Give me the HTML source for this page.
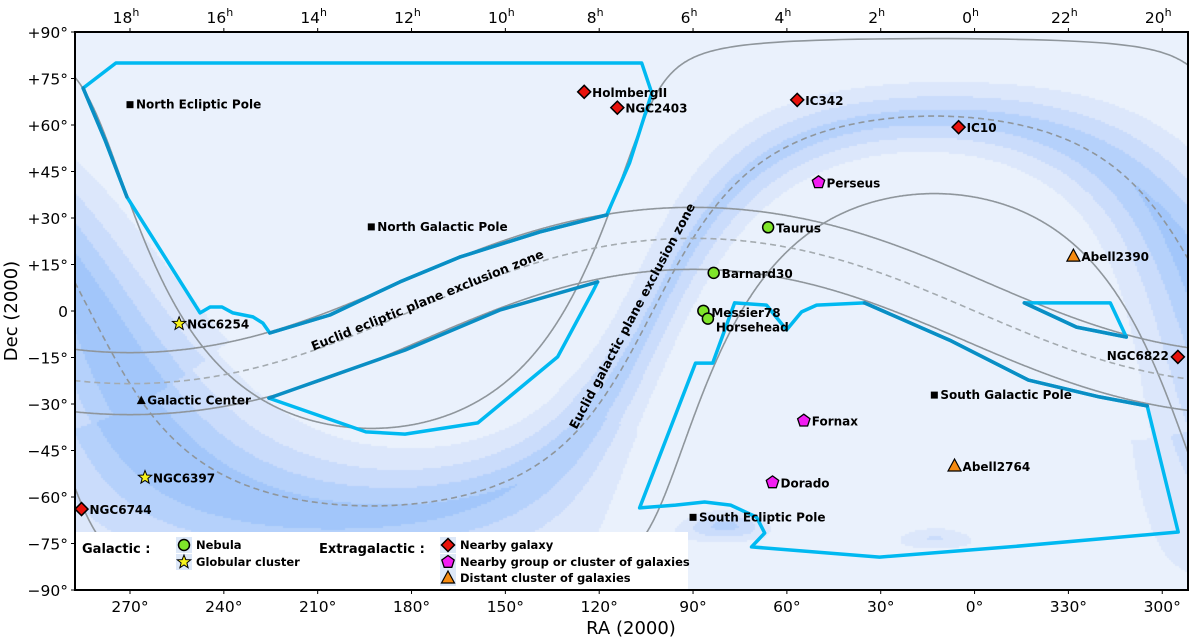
<!DOCTYPE html>
<html><head><meta charset="utf-8"><style>
html,body{margin:0;padding:0;background:#fff;}
#wrap{position:relative;width:1200px;height:640px;overflow:hidden;font-family:"DejaVu Sans","Liberation Sans",sans-serif;}
canvas{position:absolute;left:75px;top:32px;}
svg{position:absolute;left:0;top:0;}
</style></head><body>
<div id="wrap">
<canvas id="bg" width="1113" height="558"></canvas>
<svg id="sv" width="1200" height="640" xmlns="http://www.w3.org/2000/svg"></svg>
</div>
<script>
// ---- data ----
const raTicks=[270,240,210,180,150,120,90,60,30,0,330,300];
const raTickLabels=["270°","240°","210°","180°","150°","120°","90°","60°","30°","0°","330°","300°"];
const hourTicks=[270,240,210,180,150,120,90,60,30,0,330,300];
const hourLabels=["18","16","14","12","10","8","6","4","2","0","22","20"];
const decTicks=[90,75,60,45,30,15,0,-15,-30,-45,-60,-75,-90];
const decTickLabels=["+90°","+75°","+60°","+45°","+30°","+15°","0","−15°","−30°","−45°","−60°","−75°","−90°"];
const objNames=["North Ecliptic Pole","North Galactic Pole","Galactic Center","South Galactic Pole","South Ecliptic Pole","NGC6254","NGC6397","NGC6744","HolmbergII","NGC2403","IC342","IC10","NGC6822","Perseus","Fornax","Dorado","Taurus","Barnard30","Messier78","Horsehead","Abell2390","Abell2764"];
const objRA=[270,192.86,266.4,12.86,90,254.3,265.2,285.5,124.8,114.2,56.7,5.1,295.0,49.9,54.6,64.6,66,83.4,86.7,85.25,328.4,6.4];
const objDec=[66.56,27.13,-28.9,-27.13,-66.56,-4.1,-53.7,-63.9,70.7,65.6,68.1,59.3,-14.8,41.5,-35.4,-55.3,27,12.3,0.05,-2.46,17.7,-50];
const objType=["sq","sq","tri","sq","sq","star","star","dia","dia","dia","dia","dia","dia","pent","pent","pent","circ","circ","circ","circ","otri","otri"];
const northRA=[285.0,274.5,106.4,103.2,110.3,117.6,139.0,164.6,183.7,206.1,225.3,227.5,230.7,237.1,240.6,244.4,247.6,271.0,278.0,285.0];
const northDec=[71.9,80.0,80.0,70.3,47.7,31.0,25.5,17.4,9.4,-1.3,-7.1,-3.9,-1.9,-0.6,1.3,1.3,-0.6,36.8,55.2,71.9];
const northDarkA_RA=[285.0,278.0,271.0]; const northDarkA_Dec=[71.9,55.2,36.8];
const northDarkB_RA=[117.6,139.0,164.6,183.7,206.1,225.3]; const northDarkB_Dec=[31.0,25.5,17.4,9.4,-1.3,-7.1];
const uRA=[120.5,121.8,133.3,158.8,182.1,194.6,225.6]; const uDec=[9.4,6.8,-14.8,-36.1,-39.7,-39.0,-28.1];
const uDarkRA=[225.6,182.1,151.8,120.5]; const uDarkDec=[-28.1,-12.6,0.3,9.4];
const southRA=[76.7,66.5,60.1,55.3,50.5,35.2,8.0,342.8,320.1,304.8,294.9,348.9,30.4,71.3,67.1,69.7,78.0,86.3,95.6,107.1,89.2,83.7,76.7];
const southDec=[2.6,1.9,-6.1,-0.3,1.9,2.6,-9.4,-22.3,-27.7,-30.6,-71.3,-76.1,-79.4,-76.1,-71.6,-66.5,-62.6,-61.6,-62.6,-63.5,-16.8,-16.8,2.6];
const southDarkRA=[35.2,8.0,342.8,320.1,304.8]; const southDarkDec=[2.6,-9.4,-22.3,-27.7,-30.6];
const triRA=[344.1,316.6,311.5,327.4,344.1]; const triDec=[2.6,2.6,-8.4,-5.2,2.6];
const triDarkRA=[311.5,327.4,344.1]; const triDarkDec=[-8.4,-5.2,2.6];

// ---- axes ----
const X0=75,X1=1188,Y0=32,Y1=590;
function unwrap(ra){ra=((ra%360)+360)%360;return ra>290?ra-360:ra;}
function xOf(ra){return 130+(270-unwrap(ra))*3.128;}
function yOf(dec){return 311-dec*3.1;}
const D=Math.PI/180;
const aG=192.85948*D,dG=27.12825*D,lN=122.93192*D,eps=23.4393*D;
function eq2gal(ra,dec){const a=ra*D,d=dec*D;
 const sb=Math.sin(d)*Math.sin(dG)+Math.cos(d)*Math.cos(dG)*Math.cos(a-aG);
 const l=lN-Math.atan2(Math.cos(d)*Math.sin(a-aG),Math.sin(d)*Math.cos(dG)-Math.cos(d)*Math.sin(dG)*Math.cos(a-aG));
 return [((l/D)%360+360)%360,Math.asin(sb)/D];}
function gal2eq(l,b){l*=D;b*=D;
 const sd=Math.sin(b)*Math.sin(dG)+Math.cos(b)*Math.cos(dG)*Math.cos(lN-l);
 const a=aG+Math.atan2(Math.cos(b)*Math.sin(lN-l),Math.sin(b)*Math.cos(dG)-Math.cos(b)*Math.sin(dG)*Math.cos(lN-l));
 return [a/D,Math.asin(sd)/D];}
function ecl2eq(lam,bet){lam*=D;bet*=D;
 const sd=Math.sin(bet)*Math.cos(eps)+Math.cos(bet)*Math.sin(eps)*Math.sin(lam);
 const a=Math.atan2(Math.sin(lam)*Math.cos(eps)-Math.tan(bet)*Math.sin(eps),Math.cos(lam));
 return [a/D,Math.asin(sd)/D];}

// ---- background density ----
(function(){
 const c=document.getElementById('bg'),ctx=c.getContext('2d');
 const cols=["#eaf1fc","#dce7fb","#cadcfb","#b5d1fb","#a2c6fa"];
 const th=[0.14,0.3,0.5,0.72];
 const st=2;
 for(let py=0;py<558;py+=st){for(let px=0;px<1113;px+=st){
  const x=px+X0,y=py+Y0;
  let ra=270-(x-130)/3.128, dec=(311-y)/3.1;
  if(dec>90)dec=90;if(dec<-90)dec=-90;
  const g=eq2gal(ra,dec);let l=g[0],b=g[1];
  const lc=Math.cos(l*D/2); const gg=Math.pow(lc,4);
  const w=8+12*gg;
  const off=(l>250&&l<360)?-5*gg:0;
  let I=(0.58+0.42*gg)*Math.exp(-Math.pow(Math.abs(b-off)/w,1.4));
  const dl=(ra-80)*Math.cos(dec*D),dd=dec+69; I+=0.55*Math.exp(-(dl*dl+dd*dd)/18);
  const sl=(ra-13)*Math.cos(dec*D),sd=dec+73; I+=0.3*Math.exp(-(sl*sl+sd*sd)/12);
  let k=0;for(let i=0;i<4;i++)if(I>th[i])k=i+1;
  ctx.fillStyle=cols[k];ctx.fillRect(px,py,st,st);
 }}
})();

// ---- svg ----
const NS="http://www.w3.org/2000/svg";
const sv=document.getElementById('sv');
function el(t,a,p){const e=document.createElementNS(NS,t);for(const k in a)e.setAttribute(k,a[k]);(p||sv).appendChild(e);return e;}
const defs=el('defs',{});
const cp=el('clipPath',{id:'clip'},defs);el('rect',{x:X0,y:Y0,width:X1-X0,height:Y1-Y0},cp);
const plot=el('g',{'clip-path':'url(#clip)'});



function curvePath(pts){let d="",px=null;
 for(const p of pts){const x=xOf(p[0]),y=yOf(p[1]);
  if(px===null||Math.abs(x-px)>300)d+="M"+x.toFixed(1)+","+y.toFixed(1);else d+="L"+x.toFixed(1)+","+y.toFixed(1);px=x;}
 return d;}
function sample(fn,v){const pts=[];for(let t=0;t<=360;t+=0.25)pts.push(fn(t,v));return pts;}
function addCurve(name,pts,attrs){const p=el('path',Object.assign({d:curvePath(pts),fill:'none'},attrs),plot);
 
 }
addCurve('galactic-plus25-line',sample(gal2eq,25),{stroke:'#8f969c','stroke-width':1.6});
addCurve('galactic-minus25-line',sample(gal2eq,-25),{stroke:'#8f969c','stroke-width':1.6});
addCurve('ecliptic-plus10-line',sample(ecl2eq,10),{stroke:'#8f969c','stroke-width':1.6});
addCurve('ecliptic-minus10-line',sample(ecl2eq,-10),{stroke:'#8f969c','stroke-width':1.6});
addCurve('galactic-plane-dashed',sample(gal2eq,0),{stroke:'#8f969c','stroke-width':1.6,'stroke-dasharray':'6,4'});
addCurve('ecliptic-plane-dashed',sample(ecl2eq,0),{stroke:'#a4abb0','stroke-width':1.6,'stroke-dasharray':'6,4'});

function poly(name,ras,decs,color,w){let d="";for(let i=0;i<ras.length;i++)d+=(i?"L":"M")+xOf(ras[i]).toFixed(1)+","+yOf(decs[i]).toFixed(1);
 const p=el('path',{d:d,fill:'none',stroke:color,'stroke-width':w,'stroke-linejoin':'round','stroke-linecap':'round'},plot);
 
 }
const CY="#00b9f1",DK="#0a8ec4";
poly('north-footprint',northRA,northDec,CY,3.5);
poly('north-footprint-edge-a',northDarkA_RA,northDarkA_Dec,DK,3.5);
poly('north-ecliptic-exclusion-edge',northDarkB_RA,northDarkB_Dec,DK,3.5);
poly('south-u-footprint',uRA,uDec,CY,3.5);
poly('south-u-ecliptic-edge',uDarkRA,uDarkDec,DK,3.5);
poly('south-footprint',southRA,southDec,CY,3.5);
poly('south-ecliptic-exclusion-edge',southDarkRA,southDarkDec,DK,3.5);
poly('east-footprint-sliver',triRA,triDec,CY,3.5);
poly('east-sliver-edge',triDarkRA,triDarkDec,DK,3.5);

function txt(s,x,y,a,p){const t=el('text',Object.assign({x:x,y:y},a),p||sv);t.textContent=s;return t;}
let t1=txt('Euclid ecliptic plane exclusion zone',429,304,{'font-size':12.5,'font-weight':'bold','text-anchor':'middle',transform:'rotate(-22 429 304)'},plot);

let t2=txt('Euclid galactic plane exclusion zone',636,318,{'font-size':12.5,'font-weight':'bold','text-anchor':'middle',transform:'rotate(-62 636 318)'},plot);


function marker(type,x,y,g){
 if(type==='sq')return el('rect',{x:x-3.5,y:y-3.5,width:7,height:7,fill:'#000'},g);
 if(type==='tri')return el('path',{d:`M${x},${y-5}L${x+4.5},${y+3.5}L${x-4.5},${y+3.5}Z`,fill:'#000'},g);
 if(type==='circ')return el('circle',{cx:x,cy:y,r:5.5,fill:'#7fe52a',stroke:'#000','stroke-width':1.5},g);
 if(type==='dia')return el('path',{d:`M${x},${y-6.5}L${x+6.5},${y}L${x},${y+6.5}L${x-6.5},${y}Z`,fill:'#e8120c',stroke:'#000','stroke-width':1.5},g);
 if(type==='pent'){let d="";for(let i=0;i<5;i++){const a=-Math.PI/2+i*2*Math.PI/5;d+=(i?"L":"M")+(x+6.5*Math.cos(a)).toFixed(1)+","+(y+6.5*Math.sin(a)).toFixed(1);}
  return el('path',{d:d+"Z",fill:'#f21cf2',stroke:'#000','stroke-width':1.3},g);}
 if(type==='otri')return el('path',{d:`M${x},${y-7}L${x+6.5},${y+5}L${x-6.5},${y+5}Z`,fill:'#f58a10',stroke:'#000','stroke-width':1.2},g);
 if(type==='star'){let d="";for(let i=0;i<10;i++){const r=i%2?3:7,a=-Math.PI/2+i*Math.PI/5;d+=(i?"L":"M")+(x+r*Math.cos(a)).toFixed(1)+","+(y+r*Math.sin(a)).toFixed(1);}
  return el('path',{d:d+"Z",fill:'#f7f21a',stroke:'#000','stroke-width':1},g);}
}
const labelLeft={"NGC6822":1};
for(let i=0;i<objNames.length;i++){
 const x=xOf(objRA[i]),y=yOf(objDec[i]);
 const g=el('g',{},plot);
 
 
 marker(objType[i],x,y,g);
 const big=objType[i]!=='sq'&&objType[i]!=='tri';
 let lx=x+(big?8:6),ly=y+(big?1:0),anc='start';
 if(labelLeft[objNames[i]]){lx=x-9;anc='end';ly=y-1;}
 if(objNames[i]==='Horsehead'){lx=x+8;ly=y+9;}
 if(objNames[i]==='Messier78'){ly=y+2;}
 txt(objNames[i],lx,ly,{'font-size':12,'font-weight':'bold','text-anchor':anc,'dominant-baseline':'central'},g);
}

const lg=el('g',{});


el('rect',{x:76,y:532,width:612,height:57,fill:'#ffffff'},lg);
txt('Galactic :',82,553,{'font-size':13,'font-weight':'bold'},lg);
txt('Extragalactic :',319,553,{'font-size':13,'font-weight':'bold'},lg);
const legTypes=["circ","star","dia","pent","otri"];
const legLabels=["Nebula","Globular cluster","Nearby galaxy","Nearby group or cluster of galaxies","Distant cluster of galaxies"];
const legX=[184,184,448,448,448],legY=[545,562,545,562,578];
for(let i=0;i<legTypes.length;i++){
 const g=el('g',{},lg);
 
 
 el('rect',{x:legX[i]-8,y:legY[i]-8,width:16,height:16,fill:'#dde8f8'},g);
 marker(legTypes[i],legX[i],legY[i],g);
 txt(legLabels[i],legX[i]+12,legY[i]+4,{'font-size':11.5,'font-weight':'bold'},g);
}

const fr=el('rect',{x:X0,y:Y0,width:X1-X0,height:Y1-Y0,fill:'none',stroke:'#000','stroke-width':2});



for(let i=0;i<decTicks.length;i++){const y=yOf(decTicks[i]);
 el('line',{x1:X0-4,x2:X0,y1:y,y2:y,stroke:'#000','stroke-width':1});
 const t=txt(decTickLabels[i],X0-7,y+6,{'font-size':15.5,'text-anchor':'end'});
 
 }
for(let i=0;i<raTicks.length;i++){const x=xOf(raTicks[i]);
 el('line',{x1:x,x2:x,y1:Y1,y2:Y1+4,stroke:'#000','stroke-width':1});
 el('line',{x1:x,x2:x,y1:Y0-4,y2:Y0,stroke:'#000','stroke-width':1});
 const t=txt(raTickLabels[i],x,Y1+22,{'font-size':15.5,'text-anchor':'middle'});
 
 }
for(let i=0;i<hourTicks.length;i++){const x=xOf(hourTicks[i]);
 const t=el('text',{x:x-4,y:Y0-9,'font-size':15.5,'text-anchor':'middle'});
 
 
 t.appendChild(document.createTextNode(hourLabels[i]));
 const s=document.createElementNS(NS,'tspan');s.setAttribute('dy','-7');s.setAttribute('font-size','11');s.textContent='h';t.appendChild(s);}
const xt=txt('RA (2000)',631,634,{'font-size':18,'text-anchor':'middle'});

const yt=txt('Dec (2000)',17,311,{'font-size':18,'text-anchor':'middle',transform:'rotate(-90 17 311)'});

</script>
</body></html>
